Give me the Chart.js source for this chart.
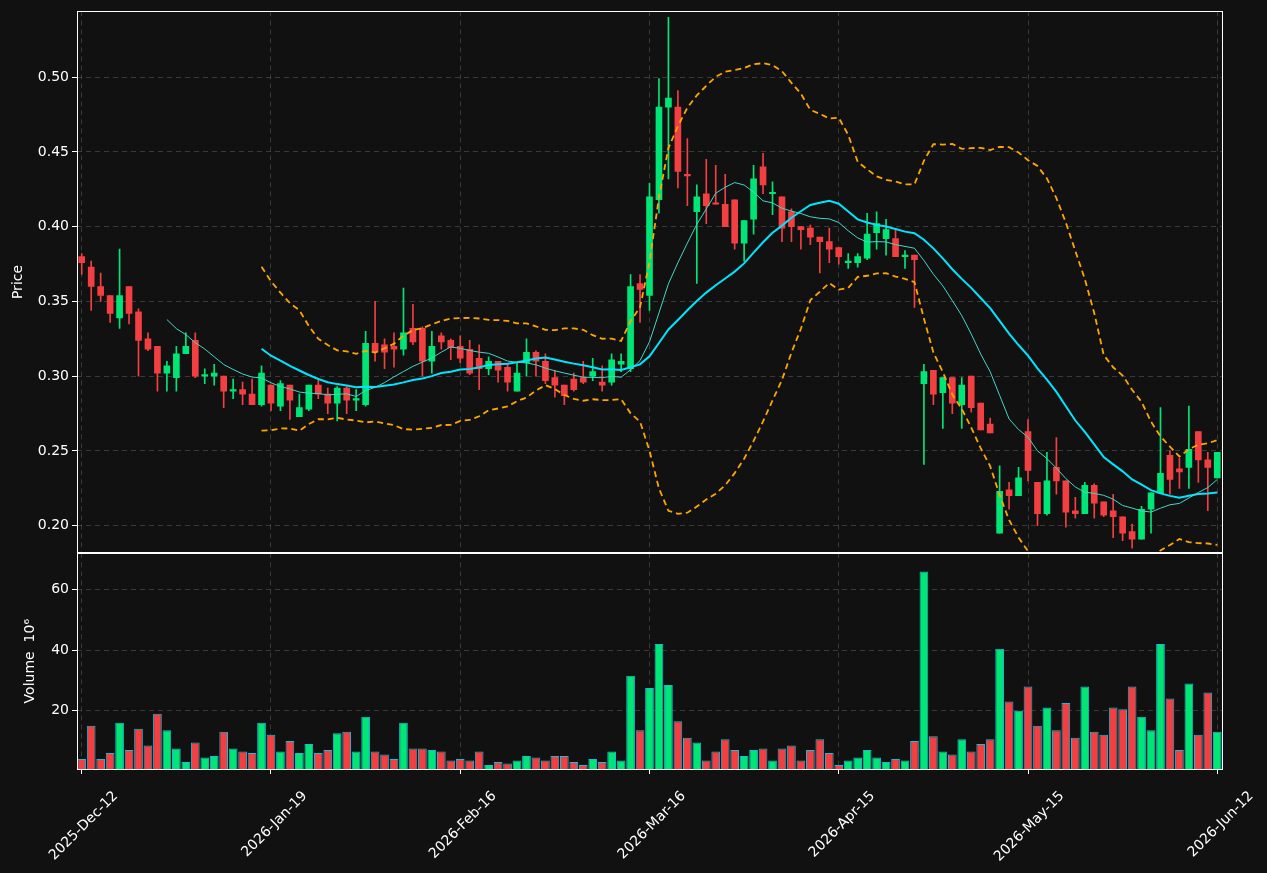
<!DOCTYPE html>
<html><head><meta charset="utf-8">
<script src="https://cdn.jsdelivr.net/npm/chart.js@4.4.1/dist/chart.umd.min.js"></script>
<style>
html,body{margin:0;padding:0;background:#111111;}
#wrap{position:relative;width:1267px;height:873px;background:#111111;}
#pc{position:absolute;left:0;top:0;}
#vc{position:absolute;left:0;top:542px;}
</style></head><body>
<div id="wrap"><canvas id="pc" width="1267" height="564"></canvas><canvas id="vc" width="1267" height="331"></canvas></div>
<script>
const tickLabels = {0:'2025-Dec-12',20:'2026-Jan-19',40:'2026-Feb-16',60:'2026-Mar-16',80:'2026-Apr-15',100:'2026-May-15',120:'2026-Jun-12'};
const openP = [.380,.373,.360,.354,.339,.360,.343,.325,.320,.302,.299,.315,.324,.300,.300,.300,.290,.291,.288,.281,
.294,.280,.294,.273,.278,.294,.288,.282,.292,.284,.281,.322,.321,.320,.318,.332,.332,.310,.327,.324,
.320,.318,.312,.305,.310,.306,.290,.309,.316,.310,.299,.294,.298,.299,.300,.296,.296,.308,.305,.362,
.354,.418,.480,.480,.435,.410,.422,.416,.415,.418,.389,.405,.440,.422,.420,.410,.400,.399,.393,.390,
.386,.376,.376,.379,.396,.392,.392,.380,.381,.295,.304,.289,.299,.281,.300,.282,.268,.195,.224,.220,
.263,.229,.208,.239,.230,.210,.208,.227,.216,.210,.206,.196,.191,.211,.222,.247,.238,.239,.263,.244,.232];
const highP = [.382,.377,.369,.354,.385,.360,.345,.329,.320,.310,.320,.329,.329,.305,.308,.300,.298,.296,.298,.307,
.294,.297,.294,.288,.294,.298,.292,.293,.293,.291,.330,.350,.325,.329,.359,.348,.333,.330,.329,.325,
.327,.324,.321,.313,.310,.308,.309,.325,.317,.315,.304,.294,.302,.310,.312,.307,.315,.315,.368,.368,
.429,.499,.540,.491,.459,.428,.445,.441,.435,.418,.404,.441,.449,.430,.420,.412,.400,.401,.393,.399,
.386,.382,.382,.409,.410,.405,.398,.384,.381,.308,.304,.299,.299,.299,.300,.282,.272,.240,.229,.239,
.271,.229,.249,.259,.230,.219,.229,.228,.216,.221,.206,.201,.213,.222,.279,.250,.245,.280,.263,.249,.249];
const lowP = [.368,.344,.350,.336,.332,.335,.300,.317,.290,.290,.290,.315,.299,.295,.294,.279,.285,.281,.281,.280,
.277,.277,.271,.273,.277,.285,.275,.270,.275,.277,.280,.310,.305,.306,.314,.321,.300,.302,.318,.311,
.309,.301,.291,.301,.296,.290,.290,.300,.300,.295,.286,.281,.290,.295,.297,.290,.294,.303,.303,.336,
.344,.409,.432,.426,.414,.362,.402,.415,.400,.385,.377,.395,.422,.408,.390,.390,.385,.388,.369,.376,
.375,.372,.373,.378,.385,.381,.380,.372,.346,.241,.281,.265,.275,.265,.276,.264,.262,.195,.211,.220,
.230,.200,.207,.221,.199,.205,.208,.205,.206,.192,.190,.185,.191,.195,.222,.221,.225,.225,.229,.210,.232];
const closeP = [.376,.360,.354,.342,.354,.342,.324,.318,.302,.307,.315,.320,.300,.300,.302,.290,.291,.288,.281,.302,
.282,.295,.284,.279,.294,.288,.282,.292,.284,.284,.322,.316,.316,.318,.329,.323,.310,.320,.323,.319,
.312,.302,.305,.310,.304,.296,.302,.316,.310,.297,.294,.287,.291,.296,.303,.294,.311,.310,.360,.358,
.420,.480,.486,.437,.434,.420,.414,.415,.400,.389,.404,.432,.428,.423,.399,.400,.398,.393,.390,.385,
.380,.377,.380,.395,.402,.398,.380,.381,.378,.303,.288,.299,.282,.294,.279,.264,.262,.223,.220,.232,
.237,.208,.230,.230,.209,.208,.227,.215,.207,.206,.195,.191,.211,.222,.235,.231,.236,.251,.244,.239,.249];
const volume = [4,15,4,6,16,7,14,8.5,19,13.5,7.5,3,9.5,4.5,5,13,7.5,6.5,6,16,
12,6.5,10,6,9,6,7,12.5,13,6.5,18,6.5,5.5,4,16,7.5,7.5,7,6.5,3.5,
4,3.5,6.5,2,3,2.5,3.5,5,4.5,3.5,5,5,3,2,4,3,6.5,3.5,31.5,13.5,
27.5,42,28.5,16.5,11,9.5,3.5,6.5,10.5,7,5,7,7.5,3.5,7.5,8.5,3.5,7,10.5,6,
2,3.5,4.5,7,4.5,3,4,3.5,10,66,11.5,6.5,5.5,10.5,6.5,9,10.5,40.5,23,20,
28,15,21,13.5,22.5,11,28,13,12,21,20.5,28,18,13.5,42,24,7,29,12,26,13];

const labels = closeP.map((_, i) => i);
function sma(arr, n){return arr.map((_, i)=> i < n-1 ? null : arr.slice(i-n+1, i+1).reduce((a,b)=>a+b,0)/n);}
function band(arr, n, k){
  return arr.map((_, i)=>{ if(i<n-1) return null; const s=arr.slice(i-n+1,i+1); const m=s.reduce((a,b)=>a+b,0)/n;
    const sd=Math.sqrt(s.reduce((a,b)=>a+(b-m)*(b-m),0)/(n-1)); return m+k*sd;});
}
const ma10 = sma(closeP,10), ma20 = sma(closeP,20);
const bbUp = band(closeP,20,2), bbLo = band(closeP,20,-2);
const GREEN='#00e676', RED='#f23f42';
const col = closeP.map((c,i)=> c>=openP[i]?GREEN:RED);
const GRID='rgba(255,255,255,0.17)';
const FONT={family:'DejaVu Sans',size:14};
Chart.defaults.color='#ffffff';
Chart.defaults.font=FONT;

const frame={id:'frame',afterDraw(c){const a=c.chartArea,x=c.ctx;x.save();x.strokeStyle='#ffffff';x.lineWidth=1;
  x.strokeRect(Math.round(a.left)+0.5,Math.round(a.top)+0.5,Math.round(a.right-a.left),Math.round(a.bottom-a.top));x.restore();}};

function xScale(showTicks){return {
  type:'category', offset:true,
  grid:{offset:false,color:(ctx)=> (ctx.index%20===0)?GRID:'rgba(0,0,0,0)',drawTicks:showTicks,tickLength:5,
    tickColor:(ctx)=> (ctx.index%20===0)?'#ffffff':'rgba(0,0,0,0)'},
  border:{display:false,dash:[5,4]},
  ticks:{display:showTicks,autoSkip:false,maxRotation:45,minRotation:45,color:'#ffffff',font:FONT,labelOffset:34,padding:14,
    callback:(v,i)=> tickLabels[i]!==undefined?tickLabels[i]:''},
  afterFit:(s)=>{s.height=showTicks?104:0;}
};}
function yScale(min,max,step,title,fmt,w){return {
  min:min,max:max,
  grid:{color:GRID,drawTicks:true,tickLength:5,tickColor:'#ffffff'},
  border:{display:false,dash:[5,4]},
  ticks:{stepSize:step,color:'#ffffff',font:FONT,callback:fmt,includeBounds:false},
  title:{display:true,text:title,color:'#ffffff',font:FONT,padding:{top:0,bottom:4}},
  afterFit:(s)=>{s.width=w;}
};}

new Chart(document.getElementById('pc'),{
  data:{labels:labels,datasets:[
    {type:'line',data:bbUp,borderColor:'#ffa500',borderWidth:1.8,borderDash:[6,4],pointRadius:0,fill:false,order:1},
    {type:'line',data:bbLo,borderColor:'#ffa500',borderWidth:1.8,borderDash:[6,4],pointRadius:0,fill:false,order:1},
    {type:'line',data:ma10,borderColor:'#40d8c8',borderWidth:1,pointRadius:0,fill:false,order:2},
    {type:'line',data:ma20,borderColor:'#00e5ff',borderWidth:2,pointRadius:0,fill:false,order:2},
    {type:'bar',data:labels.map(i=>[lowP[i],highP[i]]),backgroundColor:col,barThickness:1,grouped:false,order:4},
    {type:'bar',data:labels.map(i=>[openP[i],closeP[i]]),backgroundColor:col,barThickness:6,minBarLength:1.5,grouped:false,order:3}
  ]},
  options:{responsive:false,animation:false,
    layout:{padding:{left:10,right:45,top:10,bottom:0}},
    plugins:{legend:{display:false},tooltip:{enabled:false}},
    scales:{x:xScale(false),y:yScale(0.182,0.544,0.05,'Price',(v)=>Number(v).toFixed(2),67)}
  },plugins:[frame]});

new Chart(document.getElementById('vc'),{
  type:'bar',
  data:{labels:labels,datasets:[{data:volume,backgroundColor:col,borderColor:'#1fb8d8',borderWidth:1,barPercentage:0.92,categoryPercentage:1}]},
  options:{responsive:false,animation:false,
    layout:{padding:{left:22,right:45,top:0,bottom:0}},
    plugins:{legend:{display:false},tooltip:{enabled:false}},
    scales:{x:xScale(true),y:yScale(0.7,72,20,'Volume  10⁶',(v)=>String(v),55)}
  },plugins:[frame]});
</script></body></html>
